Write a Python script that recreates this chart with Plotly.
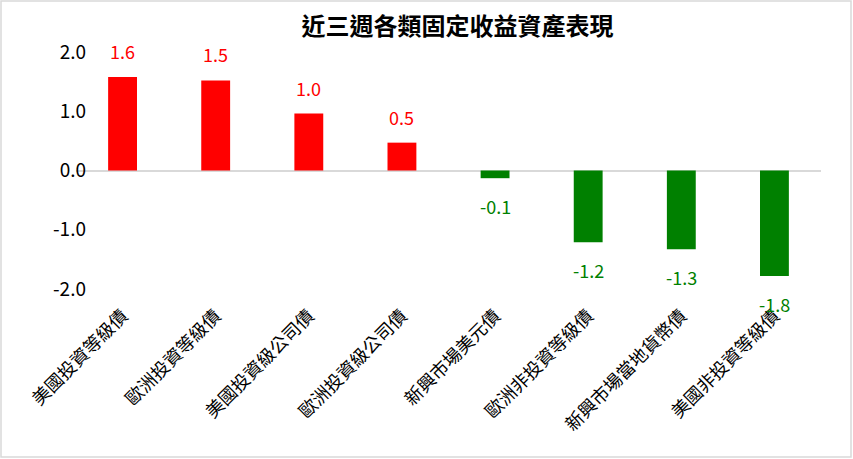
import plotly.graph_objects as go

# data
categories = ['美國投資等級債', '歐洲投資等級債', '美國投資級公司債', '歐洲投資級公司債',
              '新興市場美元債', '歐洲非投資等級債', '新興市場當地貨幣債', '美國非投資等級債']
values = [1.58, 1.52, 0.96, 0.47, -0.13, -1.21, -1.33, -1.78]
y_ticks = [-2.0, -1.0, 0.0, 1.0, 2.0]

UP = '#FF0000'
DOWN = '#008000'
FONT = 'Noto Sans CJK TC, Noto Sans, sans-serif'

W, H = 853, 459
ML, MR, MT, MB = 76, 32, 52, 170
pw, ph = W - ML - MR, H - MT - MB

colors = [UP if v >= 0 else DOWN for v in values]

fig = go.Figure()
fig.add_trace(go.Bar(
    x=categories, y=values,
    marker=dict(color=colors, line=dict(width=0)),
    width=0.31,
    hoverinfo='x+y',
))

# value labels above / below the bars
for c, v, col in zip(categories, values, colors):
    fig.add_annotation(
        x=c, y=v, text=f'{v:.1f}', showarrow=False,
        yanchor='bottom' if v >= 0 else 'top',
        yshift=11 if v >= 0 else -13,
        font=dict(family=FONT, size=18, color=col),
    )

# light border round the whole chart
fig.add_shape(
    type='rect', xref='paper', yref='paper',
    x0=-(ML - 1) / pw, x1=1 + (MR - 2) / pw,
    y0=-(MB - 2) / ph, y1=1 + (MT - 1) / ph,
    line=dict(color='#d9d9d9', width=1.5), layer='below',
)

fig.update_layout(
    width=W, height=H,
    margin=dict(l=ML, r=MR, t=MT, b=MB, autoexpand=False),
    paper_bgcolor='white', plot_bgcolor='white',
    showlegend=False,
    title=dict(text='<b>近三週各類固定收益資產表現</b>',
               x=457.5 / W, xanchor='center',
               y=1 - 27 / H, yanchor='middle',
               font=dict(family=FONT, size=24, color='#000000')),
    font=dict(family=FONT, color='#000000'),
    xaxis=dict(
        tickangle=-45, tickfont=dict(size=18, color='#000000'),
        showgrid=False, showline=False, ticks='', automargin=False,
        ticklabelstandoff=12,
    ),
    yaxis=dict(
        range=[-2.0, 2.0], tickvals=y_ticks,
        ticktext=[f'{t:.1f}' for t in y_ticks],
        tickfont=dict(size=19, color='#000000'),
        showgrid=False, showline=False, ticks='', ticklen=0,
        automargin=False,
        zeroline=True, zerolinecolor='#d9d9d9', zerolinewidth=2,
        ticklabelstandoff=-11,
    ),
)

# the page's default body margin would push the chart 8px off
fig.write_html('out.html', config={'displayModeBar': False},
               post_script="document.body.style.margin='0';")
